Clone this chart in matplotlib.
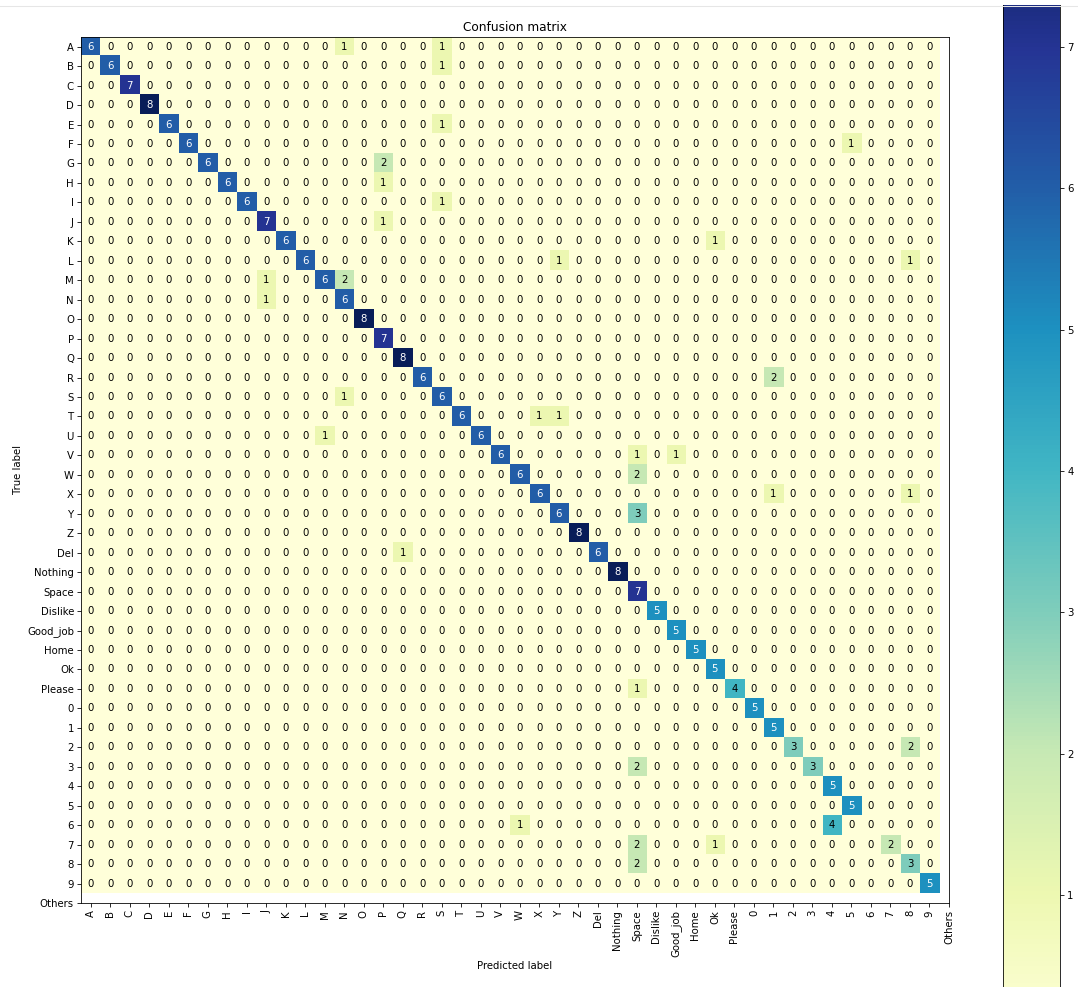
import numpy as np
import matplotlib
matplotlib.use("Agg")
import matplotlib.pyplot as plt
from matplotlib.patches import Rectangle
from matplotlib.lines import Line2D

classes = list("ABCDEFGHIJKLMNOPQRSTUVWXYZ") + [
    "Del", "Nothing", "Space", "Dislike", "Good_job", "Home", "Ok", "Please",
    "0", "1", "2", "3", "4", "5", "6", "7", "8", "9", "Others"]

# correct predictions per class (classes[:44], "Others" has no row)
diag_counts = [6, 6, 7, 8, 6, 6, 6, 6, 6, 7, 6, 6, 6, 6, 8, 7, 8, 6, 6, 6,
               6, 6, 6, 6, 6, 8, 6, 8, 7, 5, 5, 5, 5, 4, 5, 5, 3, 3, 5, 5,
               0, 2, 3, 5]

# (true label, predicted label, count)
mistakes = [
    ("A", "N", 1), ("A", "S", 1), ("B", "S", 1), ("E", "S", 1),
    ("F", "5", 1), ("G", "P", 2), ("H", "P", 1), ("I", "S", 1),
    ("J", "P", 1), ("K", "Ok", 1), ("L", "Y", 1), ("L", "8", 1),
    ("M", "J", 1), ("M", "N", 2), ("N", "J", 1), ("R", "1", 2),
    ("S", "N", 1), ("T", "X", 1), ("T", "Y", 1), ("U", "M", 1),
    ("V", "Space", 1), ("V", "Good_job", 1), ("W", "Space", 2),
    ("X", "1", 1), ("X", "8", 1), ("Y", "Space", 3), ("Del", "Q", 1),
    ("Please", "Space", 1), ("2", "8", 2), ("3", "Space", 2),
    ("6", "W", 1), ("6", "4", 4), ("7", "Space", 2), ("7", "Ok", 1),
    ("8", "Space", 2),
]

n = len(diag_counts)
cm = np.diag(diag_counts).astype(int)
for t, p, c in mistakes:
    cm[classes.index(t), classes.index(p)] = c

W, H, DPI = 1078, 987, 73
fig = plt.figure(figsize=(W / DPI, H / DPI), dpi=DPI)
fig.patch.set_facecolor("white")

ax = fig.add_axes([81 / W, 1 - 903 / H, 868 / W, 866 / H])
im = ax.imshow(cm, interpolation="nearest", cmap=plt.cm.YlGnBu,
               vmin=0, vmax=8, aspect="auto")
ax.set_title("Confusion matrix")

ticks = np.arange(len(classes))
ax.set_xticks(ticks)
ax.set_xticklabels(classes, rotation=90)
ax.set_yticks(ticks)
ax.set_yticklabels(classes)
ax.set_xlim(-0.5, n)
ax.set_ylim(n, -0.5)

thresh = cm.max() / 2.
for i in range(n):
    for j in range(n):
        ax.text(j, i, format(cm[i, j], "d"), ha="center", va="center",
                color="white" if cm[i, j] > thresh else "black")

ax.set_ylabel("True label")
ax.set_xlabel("Predicted label")

# colorbar is taller than the cell and runs past the edges
cax = fig.add_axes([1003 / W, (H - 1036.3) / H, 57 / W, 1130.6 / H])
fig.colorbar(im, cax=cax)

# cell separator strip at the top
fig.add_artist(Rectangle((0, 1 - 5 / H), 1, 5 / H, transform=fig.transFigure,
                         facecolor="white", edgecolor="none", zorder=5))
fig.add_artist(Line2D([0, 1], [1 - 5.5 / H, 1 - 5.5 / H],
                      transform=fig.transFigure, color="#e6e6e6",
                      linewidth=1, zorder=6))

fig.savefig("out.png", dpi=DPI)
